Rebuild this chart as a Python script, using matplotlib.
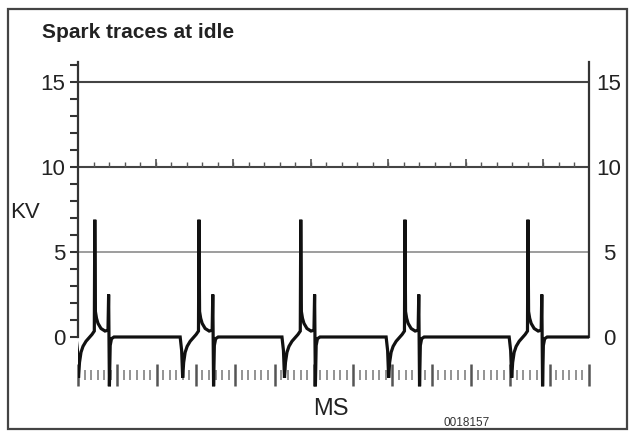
import numpy as np
import matplotlib
matplotlib.use("Agg")
import matplotlib.pyplot as plt
from matplotlib.patches import Rectangle
from matplotlib.transforms import blended_transform_factory

plt.rcParams['font.family'] = ['Liberation Sans', 'DejaVu Sans']

# time of each spark event (start of the pre-dip), in major divisions
event_starts = [0.0, 2.65, 5.24, 7.89, 11.02]

# shape of one spark event: offset (divisions), kV
shape_dt = [-0.051, -0.013, 0.013, 0.038, 0.076, 0.127, 0.204, 0.28, 0.356,
            0.415, 0.427, 0.443, 0.471, 0.509, 0.585, 0.687, 0.763,
            0.779, 0.799, 0.819, 0.852, 0.916]
shape_kv = [0.0, -0.8, -2.4, -1.5, -0.9, -0.55, -0.25, -0.05, 0.15,
            0.35, 6.9, 1.5, 1.1, 0.8, 0.5, 0.35, 0.4,
            2.5, -2.9, -0.5, -0.1, 0.0]

ref_levels = [15, 10, 5]
ref_colors = ['#444444', '#444444', '#8c8c8c']
kv_labels = [0, 5, 10, 15]

# assemble the trace
tx = [-0.2]
ty = [0.0]
for t0 in event_starts:
    tx += [t0 + d for d in shape_dt]
    ty += shape_kv
tx.append(13.2)
ty.append(0.0)

fig = plt.figure(figsize=(6.29, 4.32), dpi=100)
ax = fig.add_axes([78 / 629, 32 / 432, 511 / 629, 345 / 432])
ax.set_xlim(0, 13)
ax.set_ylim(-3.706, 16.588)

for lvl, col in zip(ref_levels, ref_colors):
    ax.axhline(lvl, color=col, lw=1.5 if col == '#444444' else 1.2, zorder=1)

# small graduation marks on the 10 kV line
g = np.arange(1, 33) * 0.3944
ax.vlines(g, 10, 10.28, color='#555555', lw=1.0)
ax.vlines(g[4::5], 10, 10.45, color='#555555', lw=1.2)

ax.plot(tx, ty, color='#111111', lw=2.3, solid_joinstyle='miter', zorder=3)

# bottom time scale
ax.spines['bottom'].set_position(('data', -2.24))
ax.spines['bottom'].set_visible(False)
ax.spines['top'].set_visible(False)
ax.set_xticks(np.arange(0, 14))
ax.set_xticks(np.arange(0, 13, 1 / 6), minor=True)
ax.tick_params(axis='x', which='major', direction='inout', length=16,
               width=1.8, color='#555555', labelbottom=False)
ax.tick_params(axis='x', which='minor', direction='inout', length=7,
               width=1.3, color='#8a8a8a')

for side in ['left', 'right']:
    ax.spines[side].set_bounds(0, 16.2)
    ax.spines[side].set_color('#333333')
    ax.spines[side].set_linewidth(1.6)

ax.set_yticks(kv_labels)
ax.set_yticks([v for v in range(17) if v not in kv_labels], minor=True)
ax.tick_params(axis='y', which='both', left=True, right=True, direction='out',
               length=6, width=1.5, color='#333333')
ax.tick_params(axis='y', which='major', labelsize=16, pad=3,
               labelcolor='#222222')

ax2 = ax.twinx()
ax2.set_ylim(ax.get_ylim())
for s in ax2.spines.values():
    s.set_visible(False)
ax2.set_yticks(kv_labels)
ax2.tick_params(axis='y', length=0, labelsize=16, pad=14.5,
                labelcolor='#222222')
for t in ax2.yaxis.get_major_ticks():
    t.label2.set_horizontalalignment('center')

tr = blended_transform_factory(ax.transAxes, ax.transData)
ax.text(-0.104, 7.35, 'KV', transform=tr, fontsize=16, ha='center',
        va='center', color='#222222')
ax.text(6.44, -4.24, 'MS', fontsize=17, ha='center', va='center',
        color='#222222', clip_on=False)

fig.text(42 / 629, 1 - 38.5 / 432, 'Spark traces at idle', fontsize=15,
         fontweight='bold', color='#222222', ha='left', va='baseline')
fig.text(467 / 629, 1 - 423 / 432, '0018157', fontsize=8.5, color='#333333',
         ha='center', va='center')

fig.add_artist(Rectangle((8 / 629, 3 / 432), 619 / 629, 420 / 432,
                         transform=fig.transFigure, fill=False,
                         edgecolor='#444444', lw=1.6))

fig.savefig('out.png', dpi=100)
